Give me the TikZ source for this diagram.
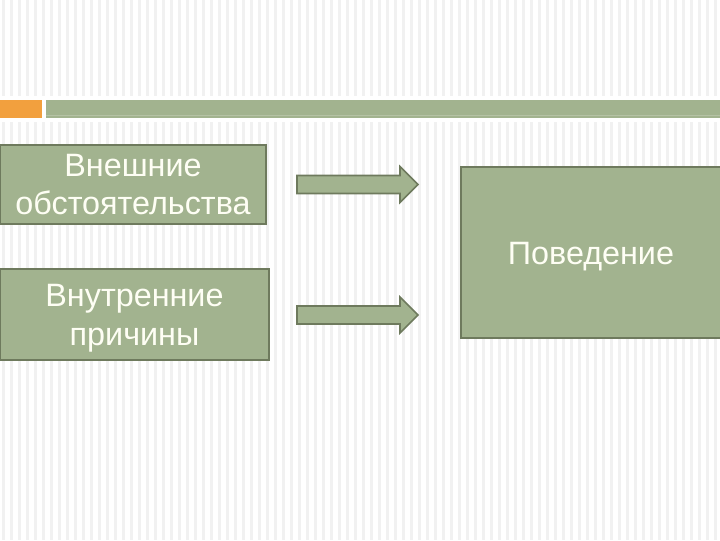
\documentclass[tikz,border=0pt]{standalone}
\usepackage{fontspec}
\setmainfont{Liberation Sans}
\usetikzlibrary{positioning}
\definecolor{slGreen}{HTML}{A2B38F}
\definecolor{slEdge}{HTML}{6E7A5D}
\definecolor{slOrange}{HTML}{F2A03E}
\definecolor{slStripe}{HTML}{F1F1F1}
\definecolor{slText}{HTML}{FEFEF4}
\newcommand{\lowtext}[1]{\raisebox{-2.8pt}[\height][\depth]{#1}}
\tikzset{
  stripe/.style   = {slStripe},
  topbar/.style   = {fill=slGreen},
  accent/.style   = {fill=slOrange},
  factbox/.style  = {rectangle, draw=slEdge, fill=slGreen, line width=1.4pt,
                     inner sep=0pt, align=center, text=slText,
                     font=\fontsize{23}{27.5}\selectfont},
  blockarrow/.style = {draw=slEdge, fill=slGreen, line width=1.1pt, line join=miter},
}
\begin{document}
\begin{tikzpicture}[x=0.025cm,y=-0.025cm]
  \useasboundingbox (0,0) rectangle (720,540);
  % striped background
  \foreach \x in {2,10,...,714}
    \fill[stripe] (\x,0) rectangle ++(3,540);
  % title bar
  \fill[white] (0,96) rectangle (720,122);
  \fill[accent] (0,100) rectangle (42,118);
  \fill[topbar] (46,100) rectangle (722,118);
  \draw[slGreen!80!white, line width=0.4pt] (46,115) -- (722,115);
  % causes and result
  \node[factbox, minimum width=6.65cm, minimum height=1.975cm] (outer)
    at (133,184.5) {Внешние\\обстоятельства};
  \node[factbox, minimum width=6.725cm, minimum height=2.275cm] (inner)
    at (134.5,314.5) {\lowtext{Внутренние}\\\lowtext{причины}};
  \node[factbox, minimum width=6.5cm, minimum height=4.275cm] (behav)
    at (591,252.5) {\lowtext{Поведение}};
  % block arrows
  \coordinate (arrA) at (297,184.5);
  \coordinate (arrB) at (297,315);
  \foreach \c in {arrA,arrB}
    \draw[blockarrow] (\c) ++(0,-9) -- ++(103,0) -- ++(0,-9) -- ++(18,18)
      -- ++(-18,18) -- ++(0,-9) -- ++(-103,0) -- cycle;
\end{tikzpicture}
\end{document}
